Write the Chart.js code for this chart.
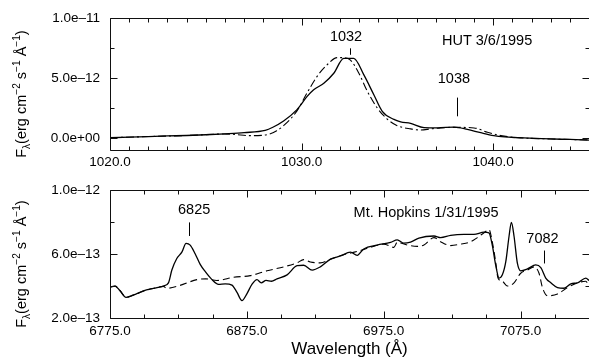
<!DOCTYPE html>
<html><head><meta charset="utf-8">
<script src="https://cdn.jsdelivr.net/npm/chart.js@4/dist/chart.umd.min.js"></script>
<style>
html,body{margin:0;padding:0;background:#fff;}
#wrap{position:relative;width:589px;height:358px;overflow:hidden;background:#fff;}
canvas{position:absolute;left:0;}
#c1{top:0;}
#c2{top:172px;}
</style></head><body>
<div id="wrap"><canvas id="c1" width="589" height="172"></canvas><canvas id="c2" width="589" height="186"></canvas></div>
<script>
// ---------- HUT panel (top) ----------
const hutWave = [1020.0, 1021.0, 1022.0, 1023.0, 1024.0, 1025.0, 1026.0, 1027.0, 1028.1, 1028.5, 1029.06, 1029.76, 1030.29, 1030.63, 1031.16, 1031.68, 1032.2, 1032.72, 1033.25, 1033.77, 1034.21, 1034.82, 1035.17, 1035.69, 1036.39, 1037.09, 1037.96, 1038.65, 1039.35, 1040.03, 1040.6, 1041.27, 1042.0, 1043.0, 1044.0, 1045.0];
const hutFlux = [0.02e-12, 0.07e-12, 0.12e-12, 0.17e-12, 0.21e-12, 0.27e-12, 0.35e-12, 0.45e-12, 0.64e-12, 0.9e-12, 1.42e-12, 2.37e-12, 3.47e-12, 4.02e-12, 4.57e-12, 5.4e-12, 6.64e-12, 6.64e-12, 5.26e-12, 3.61e-12, 2.23e-12, 1.55e-12, 1.35e-12, 1.22e-12, 0.87e-12, 0.85e-12, 0.91e-12, 0.72e-12, 0.44e-12, 0.2e-12, 0.09e-12, 0.03e-12, -0.02e-12, -0.08e-12, -0.12e-12, -0.17e-12];
const hutModelWave = [1020.0, 1022.0, 1024.0, 1026.0, 1026.5, 1027.3, 1027.9, 1028.37, 1028.7, 1029.06, 1029.76, 1030.29, 1030.81, 1031.33, 1031.86, 1032.2, 1032.55, 1032.99, 1033.43, 1033.95, 1034.47, 1034.99, 1035.69, 1036.21, 1036.74, 1037.26, 1037.96, 1039.0, 1039.7, 1040.4, 1041.27, 1043.0, 1045.0];
const hutModelFlux = [0.02e-12, 0.12e-12, 0.21e-12, 0.33e-12, 0.3e-12, 0.2e-12, 0.22e-12, 0.35e-12, 0.6e-12, 1.03e-12, 2.26e-12, 3.77e-12, 5.14e-12, 6.1e-12, 6.7e-12, 6.7e-12, 6.5e-12, 5.4e-12, 3.9e-12, 2.5e-12, 1.58e-12, 1.03e-12, 0.76e-12, 0.67e-12, 0.76e-12, 0.84e-12, 0.89e-12, 0.84e-12, 0.48e-12, 0.2e-12, 0.03e-12, -0.08e-12, -0.16e-12];
const hutXTicks = [1020, 1030, 1040];
const hutXTickLabels = ['1020.0', '1030.0', '1040.0'];
const hutYTicks = [0, 5e-12, 1e-11];
const hutYTickLabels = ['0.0e+00', '5.0e\u201312', '1.0e\u201311'];

// ---------- Mt. Hopkins panel (bottom) ----------
const mhWave = [6775.5, 6778.7, 6782.3, 6786.7, 6792.1, 6799.4, 6806.7, 6814.0, 6817.7, 6820.2, 6823.8, 6827.5, 6830.6, 6833.6, 6837.2, 6840.9, 6844.5, 6849.5, 6854.3, 6859.2, 6864.1, 6867.8, 6871.4, 6875.1, 6878.7, 6882.4, 6885.5, 6889.0, 6893.0, 6897.0, 6904.4, 6911.7, 6916.5, 6922.7, 6928.7, 6936.1, 6943.4, 6950.7, 6955.6, 6960.4, 6970.2, 6980.0, 6984.9, 6989.7, 6994.6, 7000.7, 7011.7, 7016.6, 7023.9, 7033.6, 7040.9, 7048.3, 7051.9, 7054.4, 7056.8, 7059.3, 7061.7, 7064.2, 7066.6, 7068.3, 7070.2, 7072.7, 7075.1, 7080.0, 7086.1, 7089.8, 7093.4, 7097.1, 7102.0, 7106.8, 7111.7, 7116.6, 7122.7, 7125.0];
const mhFlux = [3.94e-13, 4.0e-13, 3.7e-13, 3.29e-13, 3.44e-13, 3.7e-13, 3.86e-13, 4.0e-13, 4.2e-13, 5.0e-13, 5.72e-13, 6.12e-13, 6.67e-13, 6.56e-13, 6.02e-13, 5.35e-13, 4.91e-13, 4.4e-13, 4.1e-13, 4.14e-13, 4.06e-13, 3.6e-13, 3.09e-13, 3.53e-13, 4.1e-13, 4.4e-13, 4.2e-13, 4.35e-13, 4.3e-13, 4.45e-13, 4.7e-13, 5.27e-13, 5.3e-13, 5.0e-13, 5.2e-13, 5.68e-13, 5.88e-13, 6.12e-13, 5.92e-13, 6.32e-13, 6.56e-13, 6.73e-13, 6.89e-13, 6.68e-13, 6.75e-13, 7.0e-13, 7.13e-13, 7.03e-13, 7.17e-13, 7.23e-13, 7.23e-13, 7.37e-13, 7.33e-13, 6.53e-13, 5.32e-13, 4.5e-13, 4.7e-13, 5.52e-13, 7.13e-13, 7.98e-13, 7.13e-13, 5.41e-13, 4.95e-13, 5.07e-13, 5.32e-13, 5.15e-13, 4.5e-13, 4.2e-13, 3.9e-13, 3.86e-13, 4.14e-13, 4.2e-13, 4.5e-13, 4.35e-13];
const mhModelWave = [6775.5, 6778.7, 6782.3, 6786.7, 6792.1, 6799.4, 6806.7, 6814.0, 6816.5, 6826.2, 6838.5, 6845.0, 6853.1, 6865.3, 6877.5, 6889.7, 6901.9, 6911.7, 6916.5, 6921.4, 6928.7, 6936.1, 6945.8, 6955.6, 6965.3, 6975.1, 6982.4, 6984.9, 6992.2, 6999.5, 7004.4, 7011.7, 7016.6, 7023.9, 7031.2, 7038.5, 7043.4, 7048.3, 7051.9, 7054.4, 7056.8, 7058.5, 7061.7, 7065.4, 7070.2, 7075.1, 7080.0, 7084.9, 7088.5, 7091.0, 7094.7, 7102.0, 7109.3, 7116.6, 7122.7, 7125.0];
const mhModelFlux = [3.94e-13, 4.0e-13, 3.72e-13, 3.3e-13, 3.42e-13, 3.68e-13, 3.85e-13, 3.98e-13, 3.86e-13, 4.04e-13, 4.4e-13, 4.45e-13, 4.35e-13, 4.55e-13, 4.65e-13, 4.95e-13, 5.2e-13, 5.45e-13, 5.65e-13, 5.5e-13, 5.45e-13, 5.68e-13, 5.96e-13, 6.16e-13, 6.42e-13, 6.62e-13, 6.42e-13, 6.73e-13, 6.56e-13, 6.48e-13, 6.56e-13, 7.03e-13, 6.77e-13, 6.53e-13, 6.62e-13, 6.77e-13, 7.03e-13, 7.33e-13, 7.53e-13, 6.73e-13, 5.52e-13, 4.5e-13, 4.3e-13, 4.0e-13, 4.2e-13, 4.8e-13, 5.0e-13, 5.2e-13, 4.8e-13, 3.9e-13, 3.39e-13, 3.5e-13, 3.9e-13, 4.2e-13, 4.3e-13, 3.95e-13];
const mhXTicks = [6775, 6875, 6975, 7075];
const mhXTickLabels = ['6775.0', '6875.0', '6975.0', '7075.0'];
const mhYTicks = [2e-13, 6e-13, 1e-12];
const mhYTickLabels = ['2.0e\u201313', '6.0e\u201313', '1.0e\u201312'];

const xTitle = 'Wavelength (\u00C5)';
const yTitleParts = [
  {t: 'F', kind: 'n'}, {t: '\u03BB', kind: 'sub'}, {t: '(erg cm', kind: 'n'}, {t: '\u22122', kind: 'sup'},
  {t: ' s', kind: 'n'}, {t: '\u22121', kind: 'sup'}, {t: ' \u00C5', kind: 'n'}, {t: '\u22121', kind: 'sup'}, {t: ')', kind: 'n'}
];

const FONT = '"Liberation Sans", Arial, Helvetica, sans-serif';
const zip = (xs, ys) => xs.map((x, i) => ({x: x, y: ys[i]}));

const framePlugin = {
  id: 'frameTicks',
  afterDraw(chart, args, o) {
    const {ctx, chartArea: a} = chart;
    const xs = chart.scales.x, ys = chart.scales.y;
    ctx.save();
    ctx.strokeStyle = '#111';
    ctx.lineWidth = 1;
    const L = Math.round(a.left) + 0.5, R = Math.round(a.right) + 0.5, T = Math.round(a.top) + 0.5, B = Math.round(a.bottom) + 0.5;
    ctx.beginPath();
    ctx.moveTo(L, T); ctx.lineTo(R, T); ctx.lineTo(R, B); ctx.lineTo(L, B); ctx.closePath();
    ctx.stroke();
    const isMajor = (list, v, eps) => list.some(m => Math.abs(m - v) < eps);
    ctx.beginPath();
    const nx = Math.round((xs.max - xs.min) / o.xStep);
    for (let i = 0; i <= nx; i++) {
      const v = xs.min + i * o.xStep;
      const p = Math.round(xs.getPixelForValue(v)) + 0.5;
      const len = isMajor(o.xMajor, v, o.xStep / 100) ? 7 : 4;
      ctx.moveTo(p, B); ctx.lineTo(p, B - len);
      ctx.moveTo(p, T); ctx.lineTo(p, T + len);
    }
    const y0 = o.yMajor[0];
    for (let i = -20; i <= 40; i++) {
      const v = y0 + i * o.yStep;
      if (v < ys.min - o.yStep / 100 || v > ys.max + o.yStep / 100) continue;
      const p = Math.round(ys.getPixelForValue(v)) + 0.5;
      const len = isMajor(o.yMajor, v, o.yStep / 100) ? 7 : 4;
      ctx.moveTo(L, p); ctx.lineTo(L + len, p);
      ctx.moveTo(R, p); ctx.lineTo(R - len, p);
    }
    ctx.stroke();
    ctx.restore();
  }
};

const annotPlugin = {
  id: 'annot',
  afterDatasetsDraw(chart, args, o) {
    const {ctx} = chart;
    const xs = chart.scales.x, ys = chart.scales.y;
    ctx.save();
    ctx.fillStyle = '#000';
    ctx.strokeStyle = '#000';
    ctx.lineWidth = 1;
    ctx.font = o.fontSize + 'px ' + FONT;
    ctx.textAlign = 'center';
    ctx.textBaseline = 'middle';
    o.texts.forEach(t => ctx.fillText(t.text, xs.getPixelForValue(t.x), ys.getPixelForValue(t.y)));
    ctx.beginPath();
    o.marks.forEach(m => {
      const p = Math.round(xs.getPixelForValue(m.x)) + 0.5;
      ctx.moveTo(p, ys.getPixelForValue(m.y1));
      ctx.lineTo(p, ys.getPixelForValue(m.y2));
    });
    ctx.stroke();
    ctx.restore();
  }
};

const yTitlePlugin = {
  id: 'ytitle',
  afterDraw(chart, args, o) {
    const {ctx, chartArea: a} = chart;
    const size = o.size, small = size * o.ratio;
    ctx.save();
    const cy = (a.top + a.bottom) / 2 + o.dy;
    ctx.translate(o.x, cy);
    ctx.rotate(-Math.PI / 2);
    ctx.fillStyle = '#000';
    ctx.textBaseline = 'alphabetic';
    ctx.textAlign = 'left';
    let total = 0;
    const widths = yTitleParts.map(p => {
      ctx.font = (p.kind === 'n' ? size : small) + 'px ' + FONT;
      const w = ctx.measureText(p.t).width;
      total += w;
      return w;
    });
    let pos = -total / 2;
    yTitleParts.forEach((p, i) => {
      ctx.font = (p.kind === 'n' ? size : small) + 'px ' + FONT;
      const off = p.kind === 'sub' ? size * 0.25 : (p.kind === 'sup' ? -size * 0.42 : 0);
      ctx.fillText(p.t, pos, off);
      pos += widths[i];
    });
    ctx.restore();
  }
};

function makeChart(canvas, cfg) {
  const tickFont = {family: FONT, size: 13.5};
  return new Chart(canvas, {
    type: 'line',
    data: {
      datasets: [
        {data: zip(cfg.w1, cfg.f1), borderColor: '#000', borderWidth: 1.3, pointRadius: 0, cubicInterpolationMode: 'monotone', fill: false},
        {data: zip(cfg.w2, cfg.f2), borderColor: '#000', borderWidth: 1.1, borderDash: cfg.dash, pointRadius: 0, cubicInterpolationMode: 'monotone', fill: false}
      ]
    },
    options: {
      responsive: false,
      animation: false,
      events: [],
      layout: {padding: {left: 0, right: 0, top: cfg.padTop, bottom: 0}},
      plugins: {
        legend: {display: false},
        tooltip: {enabled: false},
        frameTicks: {xStep: cfg.xStep, yStep: cfg.yStep, xMajor: cfg.xTicks, yMajor: cfg.yTicks},
        annot: {fontSize: 14.5, texts: cfg.texts, marks: cfg.marks},
        ytitle: {x: 26, dy: 10, size: 14.5, ratio: 0.7}
      },
      scales: {
        x: {
          type: 'linear', min: cfg.xMin, max: cfg.xMax,
          afterBuildTicks: ax => { ax.ticks = cfg.xTicks.map(v => ({value: v})); },
          afterFit: s => { s.height = cfg.xHeight; },
          ticks: {callback: (v, i) => cfg.xLabels[i], font: tickFont, color: '#000', padding: cfg.xPad, maxRotation: 0, autoSkip: false},
          grid: {display: false, drawTicks: false},
          border: {display: false},
          title: cfg.showTitle ? {display: true, text: xTitle, color: '#000', font: {family: FONT, size: 17, lineHeight: 1.05}, padding: 0} : {display: false}
        },
        y: {
          type: 'linear', min: cfg.yMin, max: cfg.yMax,
          afterBuildTicks: ax => { ax.ticks = cfg.yTicks.map(v => ({value: v})); },
          afterFit: s => { s.width = 110; },
          ticks: {callback: (v, i) => cfg.yLabels[i], font: tickFont, color: '#000', padding: 10, autoSkip: false},
          grid: {display: false, drawTicks: false},
          border: {display: false}
        }
      }
    },
    plugins: [framePlugin, annotPlugin, yTitlePlugin]
  });
}

makeChart(document.getElementById('c1'), {
  w1: hutWave, f1: hutFlux, w2: hutModelWave, f2: hutModelFlux,
  xMin: 1020, xMax: 1045, yMin: -1.0e-12, yMax: 1.0e-11,
  xTicks: hutXTicks, xLabels: hutXTickLabels, yTicks: hutYTicks, yLabels: hutYTickLabels,
  xStep: 1, yStep: 2.5e-12, padTop: 17, xHeight: 22, xPad: 4, showTitle: false,
  dash: [8, 3, 2, 3],
  texts: [
    {text: '1032', x: 1032.32, y: 8.44e-12},
    {text: 'HUT 3/6/1995', x: 1039.68, y: 8.08e-12},
    {text: '1038', x: 1037.95, y: 4.96e-12}
  ],
  marks: [
    {x: 1032.53, y1: 7.48e-12, y2: 6.94e-12},
    {x: 1038.13, y1: 3.37e-12, y2: 1.81e-12}
  ]
});

makeChart(document.getElementById('c2'), {
  w1: mhWave, f1: mhFlux, w2: mhModelWave, f2: mhModelFlux,
  xMin: 6775, xMax: 7125, yMin: 2e-13, yMax: 1e-12,
  xTicks: mhXTicks, xLabels: mhXTickLabels, yTicks: mhYTicks, yLabels: mhYTickLabels,
  xStep: 25, yStep: 2e-13, padTop: 14, xHeight: 40, xPad: 5, showTitle: true,
  dash: [7, 4],
  texts: [
    {text: '6825', x: 6836.5, y: 8.75e-13},
    {text: 'Mt. Hopkins 1/31/1995', x: 7006, y: 8.55e-13},
    {text: '7082', x: 7091.0, y: 6.97e-13}
  ],
  marks: [
    {x: 6832.8, y1: 7.98e-13, y2: 7.13e-13},
    {x: 7092.2, y1: 6.22e-13, y2: 5.41e-13}
  ]
});
</script>
</body></html>
